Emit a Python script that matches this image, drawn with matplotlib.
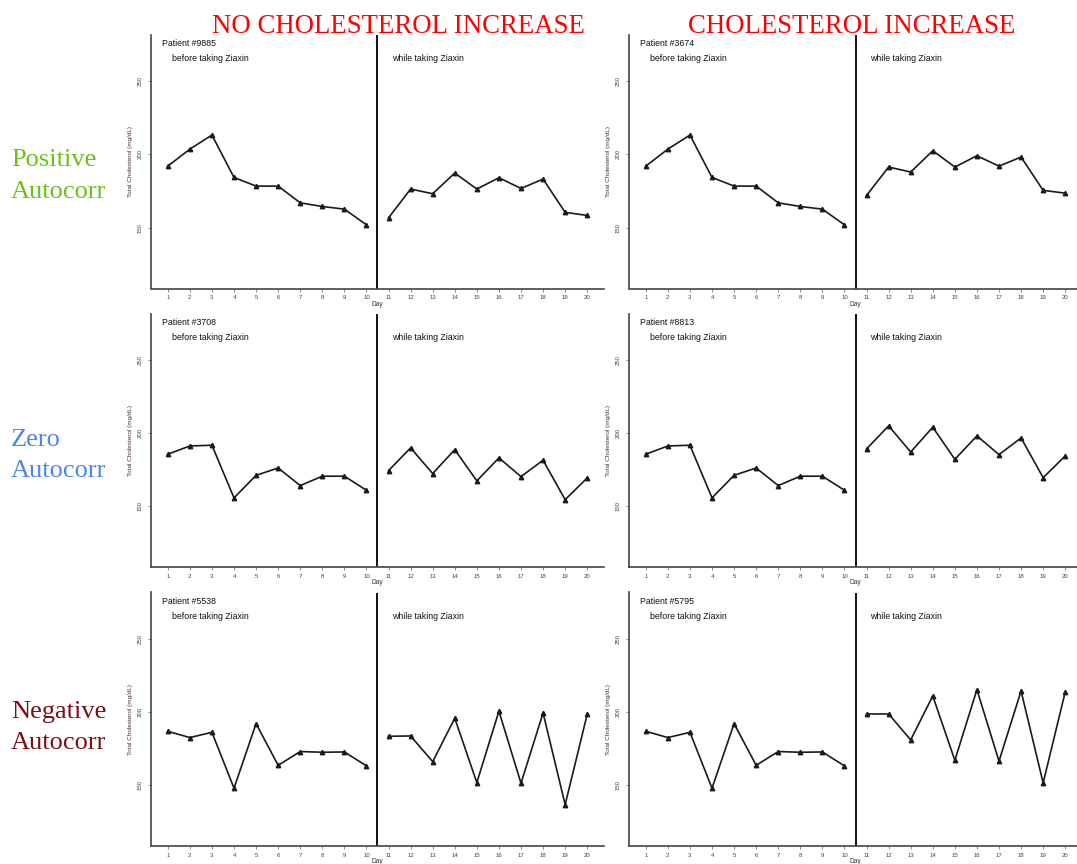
import matplotlib
matplotlib.use("Agg")
import matplotlib.pyplot as plt

plt.rcParams['font.family'] = ['Liberation Sans', 'DejaVu Sans']

days_before = list(range(1, 11))
days_while = list(range(11, 21))
day_labels = [str(d) for d in range(1, 21)]
y_ticks = [150, 200, 250]

# cholesterol readings, days 1-10 before and days 11-20 while on the drug
pos_before = [192, 203.6, 213.2, 184.3, 178.4, 178.4, 167, 164.5, 162.7, 152]
pos_while_flat = [156.8, 176.4, 173.2, 187.3, 176.4, 184.1, 176.8, 183.2, 160.5, 158.4]
pos_while_rise = [172, 191.4, 188, 202.5, 191.4, 199.1, 192, 198.2, 175.5, 173.6]

zero_before = [185.5, 191.1, 191.6, 155.7, 171.1, 176.1, 164.1, 170.5, 170.5, 160.9]
zero_while_flat = [174.3, 189.8, 172.3, 188.6, 167.3, 183, 170.2, 181.4, 154.5, 169.3]
zero_while_rise = [189.1, 204.8, 187, 203.9, 182, 198, 185.2, 196.6, 169.5, 184.3]

neg_before = [186.8, 182.5, 186.1, 148, 192, 163.6, 173, 172.5, 172.7, 163.2]
neg_while_flat = [183.4, 183.6, 166.1, 195.7, 151.8, 200.5, 151.4, 199.3, 136.8, 198.4]
neg_while_rise = [198.6, 198.6, 180.9, 210.9, 167, 215.2, 166.4, 214.3, 151.6, 213.6]

patients = [["9885", "3674"], ["3708", "8813"], ["5538", "5795"]]
series = [
    [(pos_before, pos_while_flat), (pos_before, pos_while_rise)],
    [(zero_before, zero_while_flat), (zero_before, zero_while_rise)],
    [(neg_before, neg_while_flat), (neg_before, neg_while_rise)],
]
col_titles = ["NO CHOLESTEROL INCREASE", "CHOLESTEROL INCREASE"]
row_titles = [("Positive", "Autocorr"), ("Zero", "Autocorr"), ("Negative", "Autocorr")]
row_colors = ['#6cc01e', '#4a86f0', '#7b1113']

W, H = 1077, 864
fig = plt.figure(figsize=(W / 100, H / 100), dpi=100)

col_left = [151, 629]
row_top = [35, 313.5, 592.5]
pw, ph = 453, 253.5
axis_col = '#444444'

for r in range(3):
    for c in range(2):
        ax = fig.add_axes([col_left[c] / W, 1 - (row_top[r] + ph) / H, pw / W, ph / H])
        before, during = series[r][c]
        ax.plot(days_before, before, color='#1a1a1a', lw=1.2, marker='^', ms=3.2)
        ax.plot(days_while, during, color='#1a1a1a', lw=1.2, marker='^', ms=3.2)
        ax.axvline(10.5, color='#111111', lw=1.4)
        ax.set_xlim(0.24, 20.76)
        ax.set_ylim(108.6, 281.4)
        ax.set_xticks(days_before + days_while)
        ax.set_xticklabels(day_labels)
        ax.set_yticks(y_ticks)
        ax.set_yticklabels([str(v) for v in y_ticks], rotation=90, va='center')
        ax.tick_params(axis='both', length=2.2, width=0.6, color='#777777',
                       labelsize=4.3, labelcolor='#444444', pad=2.5)
        ax.tick_params(axis='y', pad=4)
        for s in ['top', 'right']:
            ax.spines[s].set_visible(False)
        for s in ['left', 'bottom']:
            ax.spines[s].set_color(axis_col)
            ax.spines[s].set_linewidth(1.2)
        ax.set_xlabel("Day", fontsize=4.8, color='#333333', labelpad=0.5)
        ax.set_ylabel("Total Cholesterol (mg/dL)", fontsize=4.6, color='#4a3030', labelpad=3)
        ax.text(0.72, 275.5, "Patient #" + patients[r][c], fontsize=6.3, va='center', color='#111111')
        ax.text(1.17, 265.2, "before taking Ziaxin", fontsize=6.3, va='center', color='#111111')
        ax.text(11.18, 265.2, "while taking Ziaxin", fontsize=6.3, va='center', color='#111111')

# column headings
for cx, title in zip([398.5, 852], col_titles):
    fig.text(cx / W, 1 - 32.7 / H, title, ha='center', va='baseline', color='#ff0000',
             fontsize=19.3, family='Liberation Serif')

# row headings
baselines = [(165.7, 198.3), (446, 476.7), (718.3, 749.3)]
for (l1, l2), (b1, b2), col in zip(row_titles, baselines, row_colors):
    fig.text(11 / W, 1 - b1 / H, l1, ha='left', va='baseline', color=col,
             fontsize=19, family='Liberation Serif')
    fig.text(11 / W, 1 - b2 / H, l2, ha='left', va='baseline', color=col,
             fontsize=19, family='Liberation Serif')

fig.savefig("out.png", dpi=100)
